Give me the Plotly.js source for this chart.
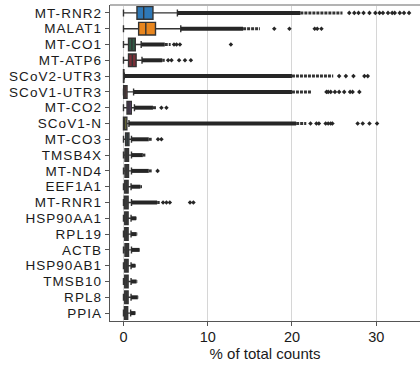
<!DOCTYPE html>
<html>
<head>
<meta charset="utf-8">
<script src="https://cdn.plot.ly/plotly-3.0.1.min.js"></script>
<style>
html,body{margin:0;padding:0;background:#fff;}
#chart{width:420px;height:365px;}
.ytick text{letter-spacing:1.05px;}
</style>
</head>
<body>
<div id="chart"></div>
<script>
// Genes, top to bottom
const genes = ['MT-RNR2','MALAT1','MT-CO1','MT-ATP6','SCoV2-UTR3','SCoV1-UTR3','MT-CO2','SCoV1-N','MT-CO3','TMSB4X','MT-ND4','EEF1A1','MT-RNR1','HSP90AA1','RPL19','ACTB','HSP90AB1','TMSB10','RPL8','PPIA'];
// Box statistics (% of total counts)
const lowerWhisker = [0.0, 0.0, 0.0, 0.0, 0.0, 0.0, 0.0, 0.0, 0.0, 0.0, 0.0, 0.0, 0.0, 0.0, 0.0, 0.0, 0.0, 0.0, 0.0, 0.0];
const q1Values     = [1.6, 1.8, 0.6, 0.6, 0.0, 0.02, 0.42, 0.0, 0.25, 0.18, 0.18, 0.15, 0.1, 0.15, 0.15, 0.18, 0.15, 0.15, 0.15, 0.12];
const medianValues = [2.4, 2.65, 1.0, 1.05, 0.02, 0.2, 0.65, 0.15, 0.45, 0.4, 0.4, 0.35, 0.3, 0.35, 0.35, 0.4, 0.35, 0.35, 0.35, 0.3];
const q3Values     = [3.5, 3.8, 1.4, 1.5, 0.05, 0.42, 0.93, 0.4, 0.65, 0.6, 0.6, 0.55, 0.55, 0.55, 0.55, 0.6, 0.55, 0.55, 0.55, 0.5];
const upperWhisker = [6.4, 6.8, 2.1, 2.2, 0.1, 1.2, 1.3, 0.65, 0.95, 0.95, 0.95, 0.9, 0.95, 0.9, 0.9, 0.95, 0.9, 0.9, 0.9, 0.85];
// Outliers: densely packed run (whisker -> denseEnd), looser run (denseEnd -> tailEnd)
const denseEnd = [21.0, 14.2, 4.9, 4.6, 20.0, 20.0, 3.5, 20.5, 3.0, 2.3, 3.0, 2.0, 4.0, 1.5, 1.55, 1.9, 1.4, 1.55, 1.7, 1.4];
const tailEnd  = [26.0, 16.2, 5.6, 4.9, 24.9, 22.3, 3.9, 21.7, 3.35, 2.6, 3.35, 2.2, 4.3, 1.56, 1.64, 1.96, 1.48, 1.64, 1.76, 1.45];
// Individual outliers beyond the runs
const sparseGene = [
  'MT-RNR2','MT-RNR2','MT-RNR2','MT-RNR2','MT-RNR2','MT-RNR2','MT-RNR2','MT-RNR2','MT-RNR2','MT-RNR2','MT-RNR2','MT-RNR2','MT-RNR2','MT-RNR2',
  'MALAT1','MALAT1','MALAT1','MALAT1','MALAT1',
  'MT-CO1','MT-CO1','MT-CO1','MT-CO1',
  'MT-ATP6','MT-ATP6','MT-ATP6','MT-ATP6','MT-ATP6',
  'SCoV2-UTR3','SCoV2-UTR3','SCoV2-UTR3','SCoV2-UTR3','SCoV2-UTR3',
  'SCoV1-UTR3','SCoV1-UTR3','SCoV1-UTR3','SCoV1-UTR3','SCoV1-UTR3','SCoV1-UTR3','SCoV1-UTR3','SCoV1-UTR3','SCoV1-UTR3',
  'MT-CO2','MT-CO2',
  'SCoV1-N','SCoV1-N','SCoV1-N','SCoV1-N','SCoV1-N','SCoV1-N','SCoV1-N','SCoV1-N','SCoV1-N','SCoV1-N','SCoV1-N',
  'MT-CO3','MT-CO3',
  'MT-ND4',
  'MT-RNR1','MT-RNR1','MT-RNR1','MT-RNR1','MT-RNR1'
];
const sparseValue = [
  26.8, 27.4, 27.9, 28.5, 29.2, 29.9, 30.4, 30.8, 31.4, 31.9, 32.2, 32.8, 33.3, 33.9,
  17.9, 19.7, 22.7, 23.0, 23.5,
  6.0, 6.3, 6.7, 12.75,
  5.3, 5.7, 6.6, 7.3, 8.0,
  25.6, 26.4, 27.3, 28.6, 29.0,
  24.1, 24.3, 24.6, 25.1, 25.6, 26.2, 26.9, 27.2, 28.0,
  4.5, 5.1,
  22.2, 22.9, 23.2, 24.0, 24.3, 24.6, 24.8, 27.8, 28.4, 29.2, 30.1,
  4.1, 4.5,
  4.05,
  4.7, 5.1, 5.5, 7.9, 8.3
];
const boxColors = ['#2e78b7','#e8861f','#2f5a45','#7b2f37','#5a4a7a','#8b4a4a','#5b3f6e','#8a8a3c','#3d5f68','#444444','#444444','#444444','#444444','#444444','#444444','#444444','#444444','#444444','#444444','#444444'];
const tickVals = [0, 10, 20, 30];

const edge = '#333333';
const traces = [];

// outlier runs
const dx = [], dy = [], tx = [], ty = [];
genes.forEach((g, i) => {
  dx.push(upperWhisker[i], denseEnd[i], null); dy.push(g, g, null);
  tx.push(denseEnd[i], tailEnd[i], null); ty.push(g, g, null);
});
traces.push({type:'scatter', mode:'lines', x:tx, y:ty, line:{color:'#333333', width:3, dash:'3px,1px'}, hoverinfo:'skip', showlegend:false});
traces.push({type:'scatter', mode:'lines', x:dx, y:dy, line:{color:'#262626', width:4}, hoverinfo:'skip', showlegend:false});

genes.forEach((g, i) => {
  traces.push({
    type:'box', orientation:'h', y:[g],
    q1:[q1Values[i]], median:[medianValues[i]], q3:[q3Values[i]],
    lowerfence:[lowerWhisker[i]], upperfence:[upperWhisker[i]],
    width:0.8, whiskerwidth:0.55, boxpoints:false,
    fillcolor:boxColors[i], line:{color:edge, width:1.4},
    hoverinfo:'skip', showlegend:false
  });
});

traces.push({type:'scatter', mode:'markers', x:sparseValue, y:sparseGene,
  marker:{symbol:'diamond', size:3.5, color:'#262626'}, hoverinfo:'skip', showlegend:false});

const layout = {
  width:420, height:365,
  margin:{l:110, r:0, t:5, b:44},
  paper_bgcolor:'#fff', plot_bgcolor:'#fff',
  font:{family:'"Liberation Sans", Arial, sans-serif', color:'#1a1a1a'},
  boxmode:'overlay',
  xaxis:{
    range:[-1.6, 35.2], tickmode:'array', tickvals:tickVals, ticktext:tickVals.map(String),
    showgrid:true, gridcolor:'#d6d6d6', gridwidth:1, zeroline:false,
    showline:true, linecolor:'#555555', linewidth:1.2,
    ticks:'outside', ticklen:4, tickcolor:'#555555', ticklabelstandoff:-2,
    tickfont:{size:14.5, color:'#1a1a1a'},
    title:{text:'% of total counts', font:{size:15, color:'#1a1a1a'}, standoff:0},
    fixedrange:true
  },
  yaxis:{
    type:'category', categoryarray:genes, categoryorder:'array',
    tickmode:'array', tickvals:genes, ticktext:genes,
    range:[19.5, -0.5], showgrid:false, zeroline:false,
    showline:true, linecolor:'#555555', linewidth:1.2,
    ticks:'outside', ticklen:4, tickcolor:'#555555',
    tickfont:{size:13.5, color:'#1a1a1a'},
    fixedrange:true
  },
  shapes:[{type:'line', xref:'paper', yref:'paper', x0:0, x1:1, y0:1, y1:1, line:{color:'#b3b3b3', width:2}}]
};

Plotly.newPlot('chart', traces, layout, {displayModeBar:false, staticPlot:true});
</script>
</body>
</html>
